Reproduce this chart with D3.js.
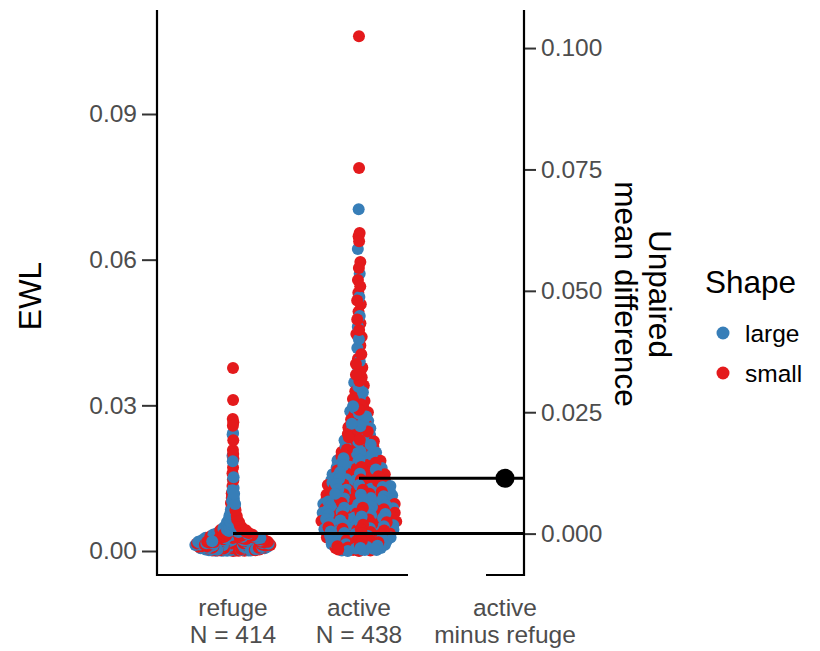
<!DOCTYPE html>
<html><head><meta charset="utf-8">
<script src="https://cdn.jsdelivr.net/npm/d3@7/dist/d3.min.js"></script>
<style>body{margin:0;background:#fff} text{font-family:"Liberation Sans",Arial,Helvetica,sans-serif}</style>
</head><body><svg id="c" width="820" height="651"></svg>
<script>
// ---- data ----
const groups = ["refuge", "active"];
const diffLabel = ["active", "minus refuge"];
const shapes = ["large", "small"];
const shapeColors = ["#377EB8", "#E41A1C"];
const leftTicks = [0, 0.03, 0.06, 0.09];
const rightTicks = [0, 0.025, 0.05, 0.075, 0.1];

const refugeLarge = [
.00012,.00045,.00078,.00023,.00061,.00005,.00089,.00037,.00052,.00094,
.00018,.00067,.00029,.00083,.00041,.00008,.00056,.00072,.00033,.00097,
.00015,.00048,.00064,.00026,.00081,.00039,.00003,.00058,.00091,.00021,
.00074,.00044,.00011,.00069,.00035,.00086,.00050,.00017,.00063,.00028,
.00079,.00046,.00007,.00054,.00092,.00031,.00066,.00019,.00084,.00042,
.00059,.00024,
.00112,.00145,.00178,.00123,.00161,.00105,.00189,.00137,.00152,.00194,
.00118,.00167,.00129,.00183,.00141,.00108,.00156,.00172,.00133,.00197,
.00115,.00148,.00164,.00126,.00181,.00139,.00103,.00158,.00191,.00121,
.00174,.00144,.00111,.00169,.00135,.00186,.00150,.00117,.00163,.00128,
.00179,.00146,.00107,.00132,.00159,.00171,.00188,.00125,.00143,
.0021,.0024,.0028,.0022,.0026,.0020,.0029,.0023,.0025,.0027,
.00215,.00245,.00265,.00235,.00285,.00205,.00255,.00275,.00225,.00295,.0022,.0026,
.00212,.00238,.00262,.00281,.00203,.00249,.00227,.00271,.00218,.00258,.00232,.00292,.00243,
.0031,.0034,.0038,.0032,.0036,.0030,.0039,.0033,.0035,.0037,.00315,.00345,.00375,.00325,.00355,
.00308,.00338,.00362,.00391,.00352,
.0041,.0044,.0048,.0042,.0046,.0040,.0049,.0043,.0045,.0047,.00435,.00465,
.0051,.0054,.0058,.0052,.0056,.0050,.0059,.0055,
.0061,.0064,.0068,.0062,.0066,.0069,
.0071,.0075,.0078,.0073,
.0082,.0088,.0093,.0085,.0097,.0090,
.0103,.0111,.0107,.0118,
.0125,.0130,.0148,
.0152,.0185,.0196,
.0240,.0243];

const refugeSmall = [
.00006,.00051,.00084,.00029,.00067,.00010,.00093,.00032,.00055,.00076,
.00020,.00062,.00043,.00088,.00014,.00070,.00036,.00098,.00025,.00058,
.00004,.00047,.00081,.00030,.00065,.00017,.00090,.00039,.00073,.00052,
.00001,.00085,.00026,.00061,.00044,.00096,.00012,.00077,.00035,.00057,
.00083,.00019,.00069,.00041,.00008,.00092,.00031,.00054,.00075,.00023,
.00063,.00046,
.00106,.00151,.00184,.00129,.00167,.00110,.00193,.00132,.00155,.00176,
.00120,.00162,.00143,.00188,.00114,.00170,.00136,.00198,.00125,.00158,
.00104,.00147,.00181,.00130,.00165,.00117,.00190,.00139,.00173,.00152,
.00101,.00185,.00126,.00161,.00144,.00196,.00112,.00177,
.00109,.00134,.00157,.00179,.00191,.00122,.00148,.00166,.00187,.00115,
.0020,.0023,.0027,.0021,.0025,.0029,.0022,.0024,.0026,.0028,
.00205,.00235,.00265,.00215,.00255,.00285,.00225,.00245,.00275,.00295,.0021,.0025,.0023,
.00208,.00231,.00257,.00279,.00214,.00242,.00268,.00291,.00221,.00252,.00238,.00283,
.0030,.0033,.0037,.0031,.0035,.0039,.0032,.0034,.0036,.0038,.00305,.00335,.00365,.00315,.00385,
.00318,.00342,.00371,.00396,.00327,
.0040,.0043,.0047,.0041,.0045,.0049,.0042,.0044,.0046,.0048,.00425,.00455,.00412,
.0050,.0053,.0057,.0051,.0055,.0059,.0052,.0056,
.0060,.0063,.0067,.0065,.0061,.0068,
.0070,.0074,.0079,.0072,
.0081,.0087,.0094,.0084,.0099,.0091,
.0101,.0109,.0114,.0119,
.0122,.0134,.0145,
.0160,.0172,.0190,
.0200,.0208,.0228,
.0258,.0265,.0272,
.0311,.0377];

const activeLarge = [
.0002,.0006,.0009,.0001,.0004,.0007,.0003,.0008,.0005,.0000,.0006,.0002,
.0012,.0015,.0018,.0011,.0014,.0017,.0013,.0019,.0016,.0010,.0014,
.0021,.0025,.0028,.0022,.0026,.0029,.0023,.0027,.0020,.0024,.0026,
.0031,.0034,.0038,.0032,.0036,.0039,.0033,.0037,.0030,.0035,
.0041,.0045,.0048,.0042,.0046,.0049,.0043,.0047,.0040,.0044,
.0051,.0054,.0058,.0052,.0056,.0059,.0053,.0057,.0055,
.0061,.0064,.0068,.0062,.0066,.0069,.0063,.0067,.0065,
.0071,.0075,.0078,.0072,.0076,.0079,.0073,.0070,.0074,
.0081,.0084,.0088,.0082,.0086,.0089,.0083,.0087,.0085,
.0091,.0094,.0098,.0092,.0096,.0099,.0093,.0097,.0090,
.0101,.0105,.0108,.0102,.0106,.0109,.0103,.0107,.0104,
.0111,.0114,.0118,.0112,.0116,.0119,.0113,.0117,.0115,
.0121,.0125,.0128,.0122,.0126,.0129,.0123,.0127,
.0131,.0134,.0138,.0132,.0136,.0139,.0133,.0137,
.0141,.0145,.0148,.0142,.0146,.0149,.0143,
.0151,.0154,.0158,.0152,.0156,.0159,.0153,
.0161,.0165,.0168,.0162,.0166,.0169,
.0171,.0174,.0178,.0172,.0176,.0179,
.0181,.0185,.0188,.0183,.0187,
.0191,.0194,.0198,.0192,.0196,
.0201,.0205,.0208,.0203,
.0212,.0216,.0219,
.0221,.0225,.0228,
.0232,.0236,.0239,
.0242,.0248,.0253,.0257,.0245,
.0262,.0268,.0273,.0277,.0265,
.0283,.0288,.0294,.0298,
.0305,.0316,.0327,
.0338,.0347,.0355,
.0372,.0391,
.0418,.0436,
.0462,.0484,
.0523,
.0571,
.0622,
.0704];

const activeSmall = [
.0001,.0005,.0008,.0003,.0007,.0000,.0004,.0009,.0002,.0006,.0003,
.0011,.0016,.0019,.0013,.0017,.0010,.0014,.0018,.0012,.0015,.0017,
.0020,.0024,.0027,.0022,.0026,.0029,.0021,.0025,.0028,.0023,
.0030,.0034,.0037,.0032,.0036,.0039,.0031,.0035,.0038,.0033,
.0040,.0044,.0047,.0042,.0046,.0049,.0041,.0045,.0048,
.0050,.0054,.0057,.0052,.0056,.0059,.0051,.0055,.0058,.0053,
.0060,.0064,.0067,.0062,.0066,.0069,.0061,.0065,.0068,
.0070,.0074,.0077,.0072,.0076,.0079,.0071,.0075,.0078,
.0080,.0084,.0087,.0082,.0086,.0089,.0081,.0085,.0088,
.0090,.0094,.0097,.0092,.0096,.0099,.0091,.0095,
.0100,.0104,.0107,.0102,.0106,.0109,.0101,.0105,.0108,
.0110,.0114,.0117,.0112,.0116,.0119,.0111,.0115,.0118,
.0120,.0124,.0127,.0122,.0126,.0129,.0121,.0125,
.0130,.0134,.0137,.0132,.0136,.0139,.0133,
.0140,.0144,.0147,.0142,.0146,.0149,.0143,
.0150,.0155,.0158,.0152,.0157,.0154,
.0160,.0164,.0167,.0163,.0166,.0169,
.0170,.0175,.0177,.0173,.0179,
.0180,.0184,.0186,.0182,.0189,
.0190,.0193,.0197,.0195,.0199,
.0200,.0204,.0207,.0209,
.0211,.0214,.0217,.0218,
.0222,.0226,.0229,
.0231,.0234,.0238,
.0241,.0246,.0251,.0255,.0259,.0249,
.0261,.0266,.0271,.0275,.0279,
.0282,.0286,.0291,.0296,
.0302,.0309,.0313,.0321,.0329,
.0333,.0341,.0350,.0358,
.0363,.0369,.0378,.0385,.0396,
.0405,.0423,.0441,.0447,
.0455,.0469,.0477,.0493,
.0508,.0516,.0532,.0545,
.0558,.0583,.0595,
.0638,.0648,.0655,
.0789,.1060];

const groupData = {
  refuge: [refugeLarge, refugeSmall],
  active: [activeLarge, activeSmall]
};

// ---- layout ----
const svg = d3.select("#c");
const panelTop = 10, panelBottom = 575;
const leftAxisX = 157, rightAxisX = 524;

const y = d3.scaleLinear().domain([0, 0.09]).range([551, 114]);
const x = d3.scaleOrdinal().domain([...groups, "diff"]).range([233, 359, 505]);
const color = d3.scaleOrdinal().domain(shapes).range(shapeColors);

const means = {};
groups.forEach(g => { means[g] = d3.mean(groupData[g].flat()); });
const meanDiff = means.active - means.refuge;
const yDiff = d3.scaleLinear().domain([0, 0.1])
  .range([y(means.refuge), y(0.1 + means.refuge)]);

function vdc(n) { let r = 0, d = 1; while (n > 0) { d *= 2; r += (n % 2) / d; n = Math.floor(n / 2); } return r; }
function nrd0(v) {
  const s = v.slice().sort(d3.ascending);
  const sd = d3.deviation(v), iqr = d3.quantile(s, 0.75) - d3.quantile(s, 0.25);
  const lo = Math.min(sd, iqr / 1.34) || sd;
  return 0.9 * lo * Math.pow(v.length, -0.2);
}
const halfWidth = 38, R = 6, bwAdjust = 1.4;

groups.forEach(g => {
  const [L, S] = groupData[g];
  const pts = [];
  const n = Math.max(L.length, S.length);
  for (let i = 0; i < n; i++) {
    if (i < L.length) pts.push({ v: L[i], s: "large" });
    if (i < S.length) pts.push({ v: S[i], s: "small" });
  }
  const vals = pts.map(p => p.v);
  const bw = nrd0(vals) * bwAdjust;
  const dens = v => d3.sum(vals, u => Math.exp(-0.5 * ((v - u) / bw) ** 2));
  pts.forEach(p => p.d = dens(p.v));
  const dmax = d3.max(pts, p => p.d);
  const order = d3.range(pts.length).sort((a, b) => pts[a].v - pts[b].v || a - b);
  order.forEach((idx, rank) => {
    const p = pts[idx];
    p.off = (vdc(rank + 1) - 0.5) * 2 * halfWidth * (p.d / dmax);
  });
  const N = pts.length;
  const drawOrder = d3.range(N).map(i => order[(i * 211) % N]);
  svg.append("g").selectAll("circle").data(drawOrder.map(i => pts[i])).join("circle")
    .attr("cx", p => x(g) + p.off)
    .attr("cy", p => y(p.v))
    .attr("r", R)
    .attr("fill", p => color(p.s));
});

// mean lines
const lines = svg.append("g");
groups.forEach(g => {
  lines.append("line").attr("x1", x(g)).attr("x2", rightAxisX)
    .attr("y1", y(means[g])).attr("y2", y(means[g]))
    .attr("stroke", "#000").attr("stroke-width", 3);
});
svg.append("circle").attr("cx", x("diff")).attr("cy", yDiff(meanDiff)).attr("r", 9.5).attr("fill", "#000");

// axes
const tickColor = "#333";
const gl = svg.append("g").attr("transform", `translate(${leftAxisX},0)`)
  .call(d3.axisLeft(y).tickValues(leftTicks).tickFormat(d3.format(".2f")).tickSize(15).tickPadding(5));
const gr = svg.append("g").attr("transform", `translate(${rightAxisX},0)`)
  .call(d3.axisRight(yDiff).tickValues(rightTicks).tickFormat(d3.format(".3f")).tickSize(12).tickPadding(5));
[gl, gr].forEach(a => {
  a.select(".domain").remove();
  a.selectAll(".tick line").attr("stroke", tickColor).attr("stroke-width", 2);
  a.selectAll(".tick text").attr("fill", "#4D4D4D").style("font-size", "24.5px");
});
const ax = svg.append("g").attr("stroke", "#000").attr("stroke-width", 2.2).attr("fill", "none");
ax.append("path").attr("d", `M${leftAxisX},${panelTop}V${panelBottom}H408`);
ax.append("path").attr("d", `M486,${panelBottom}H${rightAxisX}V${panelTop}`);

// category labels
const catLabels = [
  { k: "refuge", l: ["refuge", "N = " + (refugeLarge.length + refugeSmall.length)] },
  { k: "active", l: ["active", "N = " + (activeLarge.length + activeSmall.length)] },
  { k: "diff", l: diffLabel }
];
catLabels.forEach(c => {
  const t = svg.append("text").attr("text-anchor", "middle").attr("fill", "#4D4D4D").style("font-size", "24.5px");
  c.l.forEach((s, i) => t.append("tspan").attr("x", x(c.k)).attr("y", 616 + i * 27).text(s));
});

// axis titles
svg.append("text").attr("transform", "translate(41,296) rotate(-90)").attr("text-anchor", "middle")
  .style("font-size", "31.5px").attr("fill", "#000").text("EWL");
const rt = svg.append("text").attr("transform", "translate(649,294) rotate(90)").attr("text-anchor", "middle")
  .style("font-size", "31.5px").attr("fill", "#000");
rt.append("tspan").attr("x", 0).attr("y", 0).text("Unpaired");
rt.append("tspan").attr("x", 0).attr("y", 34).text("mean difference");

// legend
const lg = svg.append("g");
lg.append("text").attr("x", 705).attr("y", 293).style("font-size", "31.5px").attr("fill", "#000").text("Shape");
shapes.forEach((s, i) => {
  lg.append("circle").attr("cx", 723).attr("cy", 333 + i * 40).attr("r", 6.5).attr("fill", color(s));
  lg.append("text").attr("x", 745).attr("y", 342 + i * 40).style("font-size", "24.5px").attr("fill", "#000").text(s);
});
</script></body></html>
